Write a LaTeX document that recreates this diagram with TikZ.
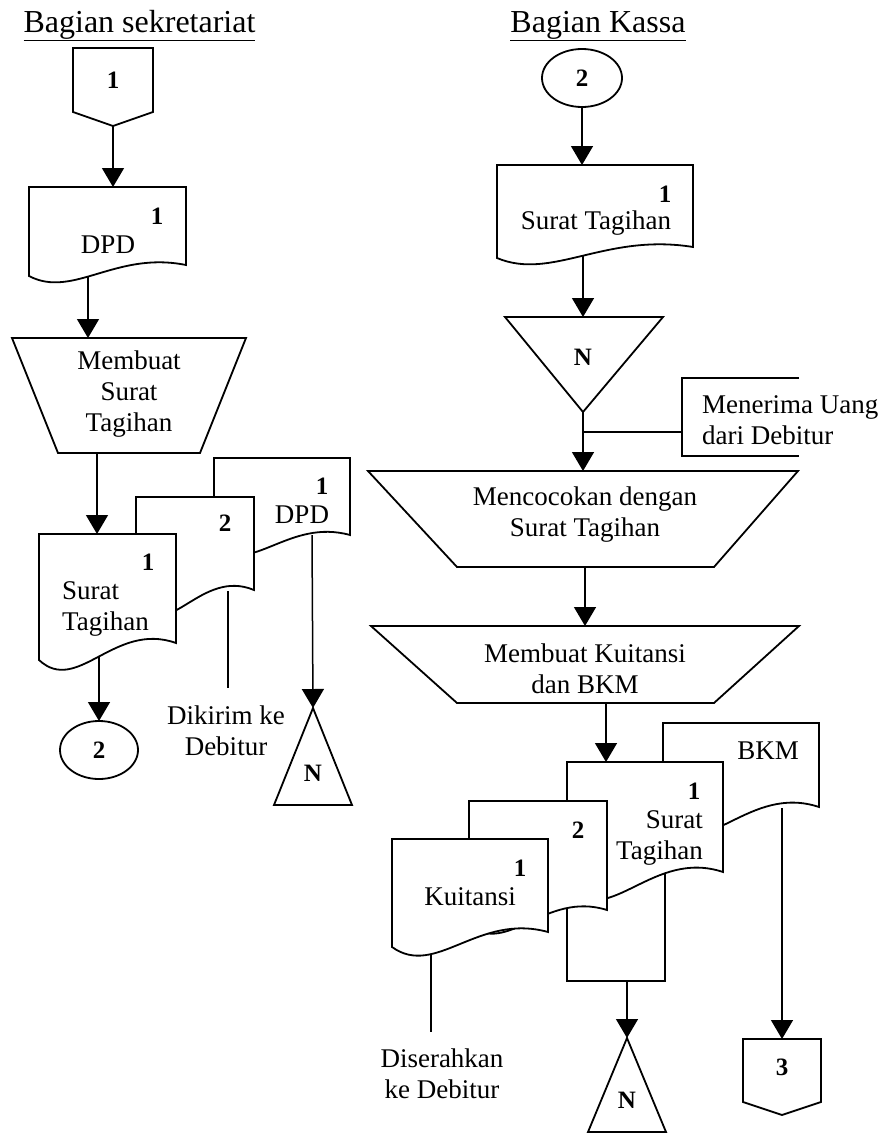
\documentclass[tikz,border=0pt]{standalone}
\usepackage{fontspec}
\setmainfont{Liberation Serif}
\usetikzlibrary{arrows.meta}

% document symbol: left, top, right, right-bottom y, wave depth
\newcommand{\flowdoc}[5]{%
  \draw[shp] (#1,#2) -- (#3,#2) -- (#3,#4)
    .. controls ({#1+0.55*(#3-#1)},{#4-1.3*#5}) and ({#1+0.28*(#3-#1)},{#4+3.1*#5}) ..
    (#1,{#4+#5}) -- cycle;}

\begin{document}
\begin{tikzpicture}[x=1pt,y=-1pt,
  shp/.style={draw=black,line width=1.8pt,fill=white,line join=miter},
  conn/.style={line width=1.5pt},
  arr/.style={conn,-{Triangle[width=22pt,length=19pt]}},
  lbl/.style={font=\fontsize{27}{31}\selectfont,inner sep=0pt,align=center},
  num/.style={font=\fontsize{25}{28}\selectfont\bfseries,inner sep=0pt},
  ttl/.style={font=\fontsize{32}{38}\selectfont,inner sep=0pt}]
\fill[white] (0,0) rectangle (881,1135);
\useasboundingbox (0,0) rectangle (881,1135);

% ---------- titles ----------
\node[ttl,anchor=base] (ttlA) at (139.5,32) {\underline{Bagian sekretariat}};
\node[ttl,anchor=base] (ttlB) at (598,32) {\underline{Bagian Kassa}};

% ================= Bagian sekretariat =================
% off-page connector 1
\draw[shp] (73,48) -- (153,48) -- (153,112) -- (113,126) -- (73,112) -- cycle;
\node[num] (opc1) at (113,80) {1};
\coordinate (opc1S) at (113,126);
\coordinate (dpdAN) at (113,187);
\draw[arr] (opc1S) -- (dpdAN);

% DPD document
\flowdoc{29}{187}{186}{265}{11}
\node[num] (dpdAnum) at (157,216) {1};
\node[lbl] (dpdA) at (108,245) {DPD};
\coordinate (dpdAS) at (88,277);
\coordinate (mstN) at (88,338);
\draw[arr] (dpdAS) -- (mstN);

% manual operation: Membuat Surat Tagihan
\draw[shp] (12,338) -- (246,338) -- (200,453) -- (58,453) -- cycle;
\node[lbl] (mst) at (129,394) {Membuat\\Surat\\Tagihan};
\coordinate (mstS) at (97,453);
\coordinate (stAN) at (97,534);
\draw[arr] (mstS) -- (stAN);

% document stack (back to front)
\flowdoc{214}{458}{350}{535}{13}
\node[num] (dpdBnum) at (322,486) {1};
\node[lbl] (dpdB) at (302,515) {DPD};
\flowdoc{136}{497}{254}{590}{17}
\node[num] (stBnum) at (225,523) {2};
\flowdoc{39}{534}{176}{643}{17}
\node[num] (stAnum) at (148,562) {1};
\node[lbl,align=left,anchor=west] (stA) at (62,609) {Surat\\Tagihan};

% copy 2 goes to the debtor
\coordinate (stBS) at (228,591);
\coordinate (kirimN) at (228,688);
\draw[conn] (stBS) -- (kirimN);
\node[lbl] (kirim) at (226,731) {Dikirim ke\\Debitur};

% DPD to file N
\coordinate (dpdBS) at (312,535);
\coordinate (fileAN) at (313,708);
\draw[arr] (dpdBS) -- (fileAN);
\draw[shp] (313,708) -- (352,805) -- (274,805) -- cycle;
\node[num] (fileA) at (313,773) {N};

% on-page connector 2
\coordinate (stAS) at (99,657);
\coordinate (con2AN) at (99,721);
\draw[arr] (stAS) -- (con2AN);
\draw[shp] (99,750) ellipse [x radius=39, y radius=29];
\node[num] (con2A) at (99,750) {2};

% ================= Bagian Kassa =================
\draw[shp] (582,78) ellipse [x radius=40, y radius=29];
\node[num] (con2B) at (582,78) {2};
\coordinate (con2BS) at (582,107);
\coordinate (stCN) at (582,165);
\draw[arr] (con2BS) -- (stCN);

\flowdoc{497}{165}{693}{247}{11}
\node[num] (stCnum) at (665,194) {1};
\node[lbl] (stC) at (596,223) {Surat Tagihan};
\coordinate (stCS) at (583,256);
\coordinate (fileBN) at (583,317);
\draw[arr] (stCS) -- (fileBN);

% file N
\draw[shp] (505,317) -- (663,317) -- (583,412) -- cycle;
\node[num] (fileB) at (583,357) {N};
\coordinate (fileBS) at (583,412);
\coordinate (cocokN) at (583,471);
\draw[arr] (fileBS) -- (cocokN);

% annotation: money received
\coordinate (joinB) at (583,432);
\coordinate (noteL) at (682,432);
\draw[conn] (joinB) -- (noteL);
\draw[conn] (799,378) -- (682,378) -- (682,456) -- (799,456);
\node[lbl,align=left,anchor=west] (terima) at (702,420) {Menerima Uang\\dari Debitur};

% manual operation: Mencocokan
\draw[shp] (368,471) -- (798,471) -- (714,567) -- (457,567) -- cycle;
\node[lbl] (cocok) at (585,515) {Mencocokan dengan\\Surat Tagihan};
\coordinate (cocokS) at (585,567);
\coordinate (kuitN) at (585,626);
\draw[arr] (cocokS) -- (kuitN);

% manual operation: Membuat Kuitansi
\draw[shp] (371,626) -- (799,626) -- (714,703) -- (457,703) -- cycle;
\node[lbl] (kuit) at (585,669) {Membuat Kuitansi\\dan BKM};
\coordinate (kuitS) at (606,703);
\coordinate (stDN) at (606,762);
\draw[arr] (kuitS) -- (stDN);

% document stack (back to front)
\flowdoc{663}{723}{819}{807}{18}
\node[lbl] (bkm) at (768,751) {BKM};
\draw[conn] (567,900) -- (567,981) -- (665,981) -- (665,860);
\flowdoc{567}{762}{723}{872}{18}
\node[num] (stDnum) at (694,791) {1};
\node[lbl,align=right,anchor=east] (stD) at (703,838) {Surat\\Tagihan};
\flowdoc{469}{801}{607}{910}{15}
\node[num] (kwBnum) at (578,830) {2};
\flowdoc{392}{839}{548}{932}{15}
\node[num] (kwAnum) at (520,868) {1};
\node[lbl] (kwA) at (470,897) {Kuitansi};

% Kuitansi handed to the debtor
\coordinate (kwAS) at (431,955);
\coordinate (serahN) at (431,1032);
\draw[conn] (kwAS) -- (serahN);
\node[lbl] (serah) at (442,1074) {Diserahkan\\ke Debitur};

% Surat Tagihan to file N
\coordinate (stDS) at (627,981);
\coordinate (fileCN) at (627,1038);
\draw[arr] (stDS) -- (fileCN);
\draw[shp] (627,1038) -- (666,1132) -- (588,1132) -- cycle;
\node[num] (fileC) at (627,1100) {N};

% BKM to off-page connector 3
\coordinate (bkmS) at (782,808);
\coordinate (opc3N) at (782,1039);
\draw[arr] (bkmS) -- (opc3N);
\draw[shp] (743,1039) -- (821,1039) -- (821,1102) -- (782,1115) -- (743,1102) -- cycle;
\node[num] (opc3) at (782,1067) {3};
\end{tikzpicture}
\end{document}
